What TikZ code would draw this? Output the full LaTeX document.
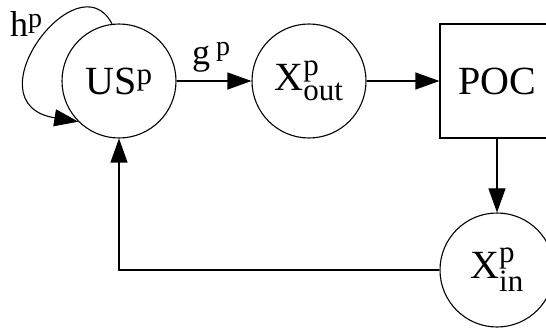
\documentclass[tikz,border=0pt]{standalone}
\usepackage{fontspec}
\setmainfont{Liberation Serif}
\usetikzlibrary{arrows.meta}
\DeclareMathSizes{40}{40}{31}{22}
\DeclareMathSizes{36}{36}{28}{20}
\begin{document}
\begin{tikzpicture}[x=1pt,y=1pt,
  every node/.style={font=\fontsize{40}{46}\selectfont},
  state/.style={draw,circle,line width=1.1pt,minimum size=114pt,inner sep=0pt},
  block/.style={draw,rectangle,line width=1.1pt,minimum width=114pt,minimum height=114pt,inner sep=0pt},
  arr/.style={line width=1.1pt,-{Triangle[length=24pt,width=17pt]}},
  lbl/.style={font=\fontsize{36}{40}\selectfont,inner sep=0pt}]
\useasboundingbox (0,0) rectangle (546,327);
\node[state] (US) at (119,246) {US$^{\mathrm{p}}$};
\node[state] (Xout) at (309,246) {$\mathrm{X}^{\mathrm{p}}_{\mathrm{out}}$};
\node[block] (POC) at (497,246) {POC};
\node[state] (Xin) at (497,57) {$\mathrm{X}^{\mathrm{p}}_{\mathrm{in}}$};
\draw[arr] (US) -- (Xout);
\draw[arr] (Xout) -- (POC);
\draw[arr] (POC) -- (Xin);
\draw[arr] (Xin.west) -| (US.south);
\draw[arr] (US.97) .. controls +(-34,66) and +(-110,18) .. (US.225);
\node[lbl,anchor=base west] (hl) at (10,290) {h$^{\mathrm{p}}$};
\node[lbl,anchor=base west] (gl) at (192,262) {g\,$^{\mathrm{p}}$};
\end{tikzpicture}
\end{document}
